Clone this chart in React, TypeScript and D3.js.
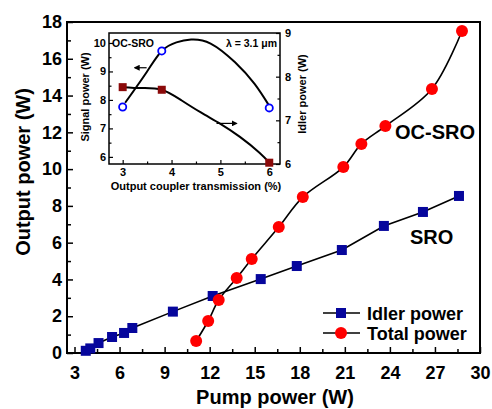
import { useEffect, useRef } from 'react';
import * as d3 from 'd3';

// main plot: idler power (SRO) and total power (OC-SRO) vs pump power
const idlerPump = [3.75, 4.05, 4.6, 5.5, 6.3, 6.85, 9.55, 12.2, 15.4, 17.8, 20.8, 23.6, 26.2, 28.6];
const idlerPower = [0.12, 0.25, 0.54, 0.87, 1.09, 1.36, 2.25, 3.1, 4.02, 4.73, 5.6, 6.91, 7.67, 8.54];

const totalPump = [11.1, 11.9, 12.6, 13.8, 14.8, 16.6, 18.2, 20.9, 22.1, 23.7, 26.8, 28.8];
const totalPower = [0.65, 1.74, 2.88, 4.08, 5.11, 6.85, 8.48, 10.11, 11.37, 12.34, 14.36, 17.51];

const xTicks = [3, 6, 9, 12, 15, 18, 21, 24, 27, 30];
const yTicks = [0, 2, 4, 6, 8, 10, 12, 14, 16, 18];

// inset: signal / idler power vs output coupler transmission
const insetT = [3, 3.8, 6];
const insetSignal = [7.75, 9.72, 7.72];
const insetIdler = [7.76, 7.7, 6.03];

// fit curves as drawn in the inset
const signalFitT = [3.05, 3.5, 3.8, 4.1, 4.4, 4.8, 5.3, 5.7, 6.0];
const signalFitP = [7.9, 9.0, 9.72, 10.02, 10.12, 9.98, 9.32, 8.56, 7.79];
const idlerFitT = [3.0, 3.4, 3.8, 4.2, 4.6, 5.0, 5.4, 5.8, 6.0];
const idlerFitP = [7.76, 7.74, 7.7, 7.46, 7.18, 6.92, 6.62, 6.26, 6.03];

const insetXTicks = [3, 4, 5, 6];
const insetLeftTicks = [6, 7, 8, 9, 10];
const insetRightTicks = [6, 7, 8, 9];

const W = 492;
const H = 409;
const FONT = 'Arial, "Liberation Sans", sans-serif';

const App = () => {
  const svgRef = useRef<SVGSVGElement>(null);

  useEffect(() => {
    const svg = d3.select(svgRef.current);
    svg.selectAll('*').remove();

    const plot = { left: 67, right: 480, top: 22, bottom: 353 };
    const x = d3.scaleLinear().domain([2.5, 30]).range([plot.left, plot.right]);
    const y = d3.scaleLinear().domain([0, 18]).range([plot.bottom, plot.top]);

    const styleAxis = (g: any, size: number) => {
      g.select('.domain').remove();
      g.selectAll('line').attr('stroke', '#000').attr('stroke-width', 1.5);
      g.selectAll('text')
        .attr('fill', '#000')
        .style('font-family', FONT)
        .style('font-weight', 'bold')
        .style('font-size', `${size}px`);
    };

    // main axes (ticks inside)
    svg.append('g')
      .attr('transform', `translate(0,${plot.bottom})`)
      .call(d3.axisBottom(x).tickValues(xTicks).tickSize(-6).tickPadding(13).tickFormat(d3.format('d')))
      .call(g => styleAxis(g, 18));
    svg.append('g')
      .attr('transform', `translate(0,${plot.bottom})`)
      .call(d3.axisBottom(x).tickValues(xTicks.slice(0, -1).map(v => v + 1.5)).tickSize(-4).tickFormat(() => ''))
      .call(g => styleAxis(g, 18));
    svg.append('g')
      .attr('transform', `translate(${plot.left},0)`)
      .call(d3.axisLeft(y).tickValues(yTicks).tickSize(-6).tickPadding(5).tickFormat(d3.format('d')))
      .call(g => styleAxis(g, 18));
    svg.append('g')
      .attr('transform', `translate(${plot.left},0)`)
      .call(d3.axisLeft(y).tickValues(yTicks.slice(0, -1).map(v => v + 1)).tickSize(-4).tickFormat(() => ''))
      .call(g => styleAxis(g, 18));

    svg.append('rect')
      .attr('x', plot.left)
      .attr('y', plot.top)
      .attr('width', plot.right - plot.left)
      .attr('height', plot.bottom - plot.top)
      .attr('fill', 'none')
      .attr('stroke', '#000')
      .attr('stroke-width', 2);

    // axis titles
    svg.append('text')
      .attr('x', 275)
      .attr('y', 404)
      .attr('text-anchor', 'middle')
      .style('font-family', FONT)
      .style('font-weight', 'bold')
      .style('font-size', '20px')
      .text('Pump power (W)');
    svg.append('text')
      .attr('transform', 'translate(30,172) rotate(-90)')
      .attr('text-anchor', 'middle')
      .style('font-family', FONT)
      .style('font-weight', 'bold')
      .style('font-size', '20px')
      .text('Output power (W)');

    // series
    const idlerData = idlerPump.map((p, i) => ({ p, v: idlerPower[i] }));
    const totalData = totalPump.map((p, i) => ({ p, v: totalPower[i] }));

    const idlerLine = d3.line<any>().x(d => x(d.p)).y(d => y(d.v));
    const totalLine = d3.line<any>().x(d => x(d.p)).y(d => y(d.v)).curve(d3.curveCatmullRom.alpha(0.5));

    svg.append('path').datum(idlerData)
      .attr('fill', 'none').attr('stroke', '#000').attr('stroke-width', 1.6)
      .attr('d', idlerLine);
    svg.append('path').datum(totalData)
      .attr('fill', 'none').attr('stroke', '#000').attr('stroke-width', 1.6)
      .attr('d', totalLine);

    svg.append('g').selectAll('rect').data(idlerData).join('rect')
      .attr('x', d => x(d.p) - 5)
      .attr('y', d => y(d.v) - 5)
      .attr('width', 10)
      .attr('height', 10)
      .attr('fill', '#06069c');
    svg.append('g').selectAll('circle').data(totalData).join('circle')
      .attr('cx', d => x(d.p))
      .attr('cy', d => y(d.v))
      .attr('r', 6)
      .attr('fill', '#ff0000');

    // curve labels
    svg.append('text').attr('x', 395).attr('y', 139)
      .style('font-family', FONT).style('font-weight', 'bold').style('font-size', '20px')
      .text('OC-SRO');
    svg.append('text').attr('x', 410).attr('y', 244)
      .style('font-family', FONT).style('font-weight', 'bold').style('font-size', '20px')
      .text('SRO');

    // legend
    const legend = svg.append('g').attr('transform', 'translate(323,313)');
    [{ label: 'Idler power', kind: 'square' }, { label: 'Total power', kind: 'circle' }].forEach((item, i) => {
      const row = legend.append('g').attr('transform', `translate(0,${i * 20})`);
      row.append('line').attr('x1', 0).attr('x2', 37).attr('stroke', '#000').attr('stroke-width', 1.6);
      if (item.kind === 'square') {
        row.append('rect').attr('x', 13).attr('y', -5).attr('width', 10).attr('height', 10).attr('fill', '#06069c');
      } else {
        row.append('circle').attr('cx', 18).attr('r', 6).attr('fill', '#ff0000');
      }
      row.append('text').attr('x', 44).attr('y', 6.5)
        .style('font-family', FONT).style('font-weight', 'bold').style('font-size', '18px')
        .text(item.label);
    });

    // ---------- inset ----------
    const inset = { left: 109, right: 280, top: 33, bottom: 164 };
    const ix = d3.scaleLinear().domain([2.72, 6.22]).range([inset.left, inset.right]);
    const iyL = d3.scaleLinear().domain([5.75, 10.35]).range([inset.bottom, inset.top]);
    const iyR = d3.scaleLinear().domain([6, 9]).range([inset.bottom, inset.top]);

    const styleInset = (g: any) => {
      g.select('.domain').remove();
      g.selectAll('line').attr('stroke', '#000').attr('stroke-width', 1.2);
      g.selectAll('text')
        .attr('fill', '#000')
        .style('font-family', FONT)
        .style('font-weight', 'bold')
        .style('font-size', '11px');
    };

    svg.append('rect')
      .attr('x', inset.left).attr('y', inset.top)
      .attr('width', inset.right - inset.left).attr('height', inset.bottom - inset.top)
      .attr('fill', '#fff');

    svg.append('g').attr('transform', `translate(0,${inset.bottom})`)
      .call(d3.axisBottom(ix).tickValues(insetXTicks).tickSize(-4).tickPadding(4).tickFormat(d3.format('d')))
      .call(styleInset);
    svg.append('g').attr('transform', `translate(0,${inset.bottom})`)
      .call(d3.axisBottom(ix).tickValues([3.5, 4.5, 5.5]).tickSize(-2.5).tickFormat(() => ''))
      .call(styleInset);
    svg.append('g').attr('transform', `translate(${inset.left},0)`)
      .call(d3.axisLeft(iyL).tickValues(insetLeftTicks).tickSize(-4).tickPadding(3).tickFormat(d3.format('d')))
      .call(styleInset);
    svg.append('g').attr('transform', `translate(${inset.left},0)`)
      .call(d3.axisLeft(iyL).tickValues([6.5, 7.5, 8.5, 9.5]).tickSize(-2.5).tickFormat(() => ''))
      .call(styleInset);
    svg.append('g').attr('transform', `translate(${inset.right},0)`)
      .call(d3.axisRight(iyR).tickValues(insetRightTicks).tickSize(-4).tickPadding(5).tickFormat(d3.format('d')))
      .call(styleInset);
    svg.append('g').attr('transform', `translate(${inset.right},0)`)
      .call(d3.axisRight(iyR).tickValues([6.5, 7.5, 8.5]).tickSize(-2.5).tickFormat(() => ''))
      .call(styleInset);

    svg.append('rect')
      .attr('x', inset.left).attr('y', inset.top)
      .attr('width', inset.right - inset.left).attr('height', inset.bottom - inset.top)
      .attr('fill', 'none').attr('stroke', '#000').attr('stroke-width', 1.5);

    const insetTitle = (sel: any) =>
      sel.attr('text-anchor', 'middle')
        .style('font-family', FONT).style('font-weight', 'bold').style('font-size', '11px');

    svg.append('text').attr('x', 196).attr('y', 190).call(insetTitle).text('Output coupler transmission (%)');
    svg.append('text').attr('transform', 'translate(89,97) rotate(-90)').call(insetTitle).text('Signal power (W)');
    svg.append('text').attr('transform', 'translate(306,94) rotate(-90)').call(insetTitle).text('Idler power (W)');

    svg.append('text').attr('x', 112).attr('y', 47)
      .style('font-family', FONT).style('font-weight', 'bold').style('font-size', '10.5px')
      .text('OC-SRO');
    svg.append('text').attr('x', 277).attr('y', 47).attr('text-anchor', 'end')
      .style('font-family', FONT).style('font-weight', 'bold').style('font-size', '10.5px')
      .text('λ = 3.1 μm');

    // fit curves
    const sigFit = signalFitT.map((t, i) => [ix(t), iyL(signalFitP[i])] as [number, number]);
    const idFit = idlerFitT.map((t, i) => [ix(t), iyR(idlerFitP[i])] as [number, number]);
    const fitLine = d3.line().curve(d3.curveNatural);
    svg.append('path').attr('d', fitLine(sigFit)).attr('fill', 'none').attr('stroke', '#000').attr('stroke-width', 2);
    svg.append('path').attr('d', fitLine(idFit)).attr('fill', 'none').attr('stroke', '#000').attr('stroke-width', 2);

    // arrows pointing to the axes
    svg.append('defs').append('marker')
      .attr('id', 'arrowHead')
      .attr('viewBox', '0 0 10 10')
      .attr('refX', 8).attr('refY', 5)
      .attr('markerWidth', 5).attr('markerHeight', 5)
      .attr('orient', 'auto')
      .append('path').attr('d', 'M0,0 L10,5 L0,10 Z').attr('fill', '#000');
    svg.append('line')
      .attr('x1', ix(3.49)).attr('x2', ix(3.25))
      .attr('y1', iyL(9.13)).attr('y2', iyL(9.13))
      .attr('stroke', '#000').attr('stroke-width', 1.2).attr('marker-end', 'url(#arrowHead)');
    svg.append('line')
      .attr('x1', ix(4.92)).attr('x2', ix(5.33))
      .attr('y1', iyR(6.93)).attr('y2', iyR(6.93))
      .attr('stroke', '#000').attr('stroke-width', 1.2).attr('marker-end', 'url(#arrowHead)');

    // inset markers
    svg.append('g').selectAll('rect').data(insetT).join('rect')
      .attr('x', (t: number) => ix(t) - 4)
      .attr('y', (t: number, i: number) => iyR(insetIdler[i]) - 4)
      .attr('width', 8).attr('height', 8)
      .attr('fill', '#8b0a0a');
    svg.append('g').selectAll('circle').data(insetT).join('circle')
      .attr('cx', (t: number) => ix(t))
      .attr('cy', (t: number, i: number) => iyL(insetSignal[i]))
      .attr('r', 3.6)
      .attr('fill', '#fff')
      .attr('stroke', '#0000ff')
      .attr('stroke-width', 1.8);
  }, []);

  return (
    <svg
      ref={svgRef}
      width={W}
      height={H}
      style={{ position: 'absolute', left: 0, top: 0, background: '#fff', display: 'block' }}
    />
  );
};

export default App;
